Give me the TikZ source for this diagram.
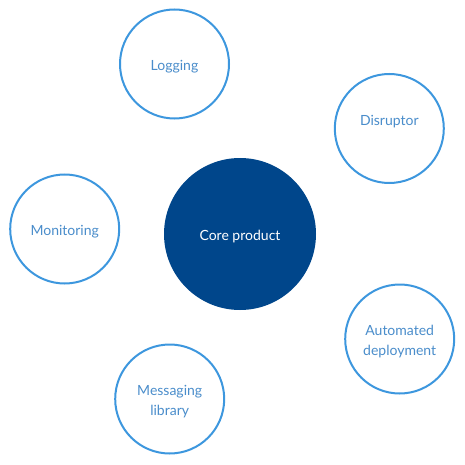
\documentclass[tikz,border=0pt]{standalone}
\usepackage{fontspec}
\setmainfont{Lato}
\definecolor{coreblue}{HTML}{00468B}
\definecolor{ringblue}{HTML}{3D97DE}
\definecolor{labelblue}{HTML}{4A8DCB}
\tikzset{
  satellite/.style={circle, draw=ringblue, line width=2pt, fill=white,
    minimum size=109pt, inner sep=0pt},
  satlabel/.style={text=labelblue, align=center, inner sep=0pt, yshift=-3pt,
    font=\fontsize{14}{20}\selectfont},
  core/.style={circle, fill=coreblue, minimum size=152pt, inner sep=0pt},
  corelabel/.style={text=white, inner sep=0pt, yshift=-3pt,
    font=\fontsize{14}{20}\selectfont}
}
\begin{document}
\begin{tikzpicture}[x=1pt,y=-1pt]
      \useasboundingbox (0,0) rectangle (465,465);
      % centre
      \node (coreProduct) [core] at (240,234) {};
      \node [corelabel] at (coreProduct) {Core product};
      % around it
      \node (logging) [satellite] at (174.5,64) {};
      \node [satlabel] at (logging) {Logging};
      \node (disruptor) [satellite] at (389.3,128.5) {};
      \node [satlabel, yshift=10pt] at (disruptor) {Disruptor};
      \node (monitoring) [satellite] at (64.7,229) {};
      \node [satlabel] at (monitoring) {Monitoring};
      \node (automatedDeployment) [satellite] at (399.7,339) {};
      \node [satlabel] at (automatedDeployment) {Automated\\deployment};
      \node (messagingLibrary) [satellite] at (169.7,399) {};
      \node [satlabel] at (messagingLibrary) {Messaging\\library};
    \end{tikzpicture}
\end{document}
